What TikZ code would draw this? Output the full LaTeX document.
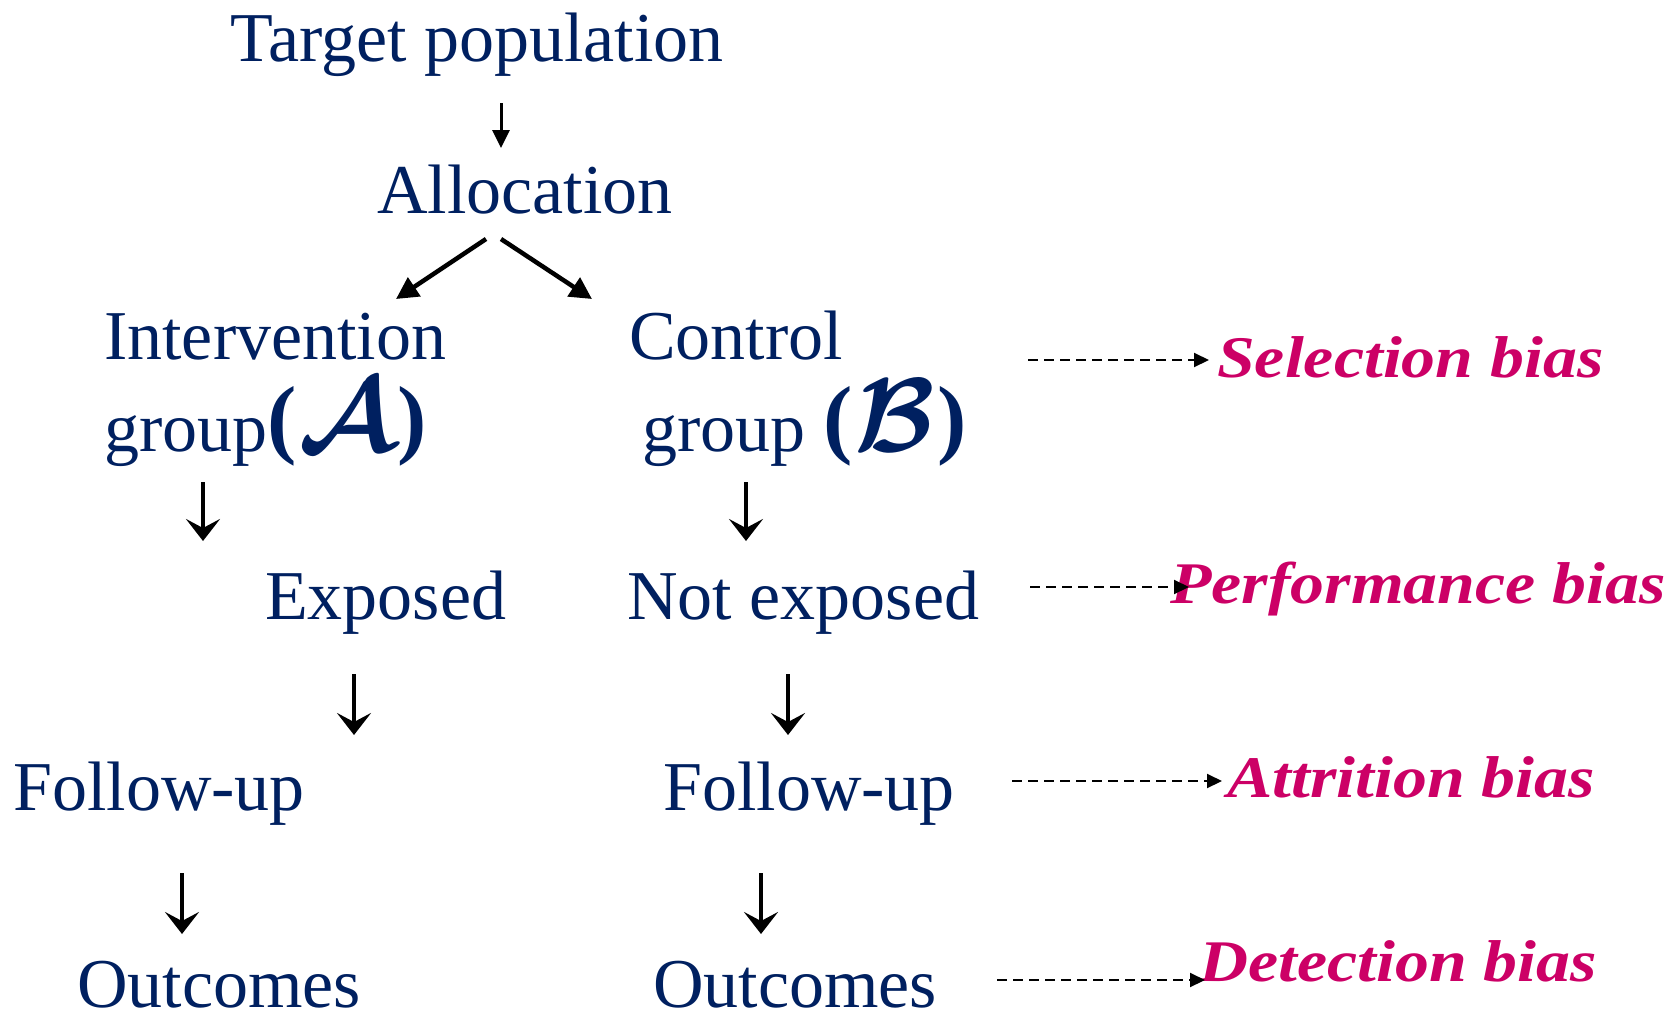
\documentclass[tikz,border=0pt]{standalone}
\usepackage{graphicx}
\usepackage{bm}
\usepackage{fontspec}
\setmainfont{Liberation Serif}
\newfontfamily\biasfont[FakeStretch=1.15]{Liberation Serif}
\usetikzlibrary{arrows.meta}
\definecolor{navy}{HTML}{002060}
\definecolor{biasred}{HTML}{CC0066}
\tikzset{
  stage/.style={anchor=base west, inner sep=0pt, text=navy,
    font=\fontsize{70}{80}\selectfont},
  biaslabel/.style={anchor=base west, inner sep=0pt, text=biasred,
    font=\biasfont\bfseries\itshape\fontsize{59}{66}\selectfont},
  toparrow/.style={line width=3pt, -{Triangle[length=18pt,width=17pt]}},
  splitarrow/.style={line width=4.5pt, -{Triangle[length=22pt,width=22pt]}},
  thinarrow/.style={line width=3.5pt, -{Stealth[length=22pt,width=34pt,inset=9pt]}},
  biasarrow/.style={line width=2pt, dash pattern=on 10pt off 6pt,
    -{Triangle[length=15pt,width=14pt]}},
}
% bold parenthesised calligraphic group letter
\newcommand{\bigparen}[1]{\raisebox{4pt}{\fontsize{88}{88}\selectfont\textbf{#1}}}
\newcommand{\grpsym}[1]{\bigparen{(}\kern2pt\scalebox{10.5}{\fontsize{10}{12}\selectfont$\bm{\mathcal{#1}}$}\kern2pt\bigparen{)}}
\begin{document}
\begin{tikzpicture}[x=1pt,y=-1pt]
\useasboundingbox (0,0) rectangle (1678,1012);

% stages of the trial
\node[stage] (target) at (230,61) {Target population};
\node[stage] (alloc)  at (377,213) {Allocation};
\node[stage] (interv) at (104,359) {Intervention};
\node[stage] (grpA)   at (104,451) {group\grpsym{A}};
\node[stage] (ctrl)   at (629,359) {Control};
\node[stage] (grpB)   at (642,451) {group \grpsym{B}};
\node[stage] (expo)   at (265,619) {Exposed};
\node[stage] (nexpo)  at (627,619) {Not exposed};
\node[stage] (fuA)    at (13,810)  {Follow-up};
\node[stage] (fuB)    at (663,810) {Follow-up};
\node[stage] (outA)   at (77,1007) {Outcomes};
\node[stage] (outB)   at (653,1007) {Outcomes};

% bias labels
\node[biaslabel] (selb)  at (1217,377) {Selection bias};
\node[biaslabel] (perfb) at (1170,603) {Performance bias};
\node[biaslabel] (attb)  at (1227,797) {Attrition bias};
\node[biaslabel] (detb)  at (1199,981) {Detection bias};

% arrow end points
\coordinate (t0) at (501,103);  \coordinate (t1) at (501,148);
\coordinate (l0) at (486,239);  \coordinate (l1) at (396,299);
\coordinate (r0) at (501,239);  \coordinate (r1) at (592,299);
\coordinate (ia0) at (203,482); \coordinate (ia1) at (203,541);
\coordinate (ca0) at (746,482); \coordinate (ca1) at (746,541);
\coordinate (ea0) at (354,674); \coordinate (ea1) at (354,735);
\coordinate (na0) at (788,674); \coordinate (na1) at (788,735);
\coordinate (fa0) at (182,873); \coordinate (fa1) at (182,934);
\coordinate (fb0) at (761,873); \coordinate (fb1) at (761,934);
\coordinate (s0) at (1028,360); \coordinate (s1) at (1209,360);
\coordinate (p0) at (1030,587); \coordinate (p1) at (1189,587);
\coordinate (a0) at (1012,781); \coordinate (a1) at (1222,781);
\coordinate (d0) at (997,980);  \coordinate (d1) at (1205,980);

% flow arrows
\draw[toparrow] (t0) -- (t1);
\draw[splitarrow] (l0) -- (l1);
\draw[splitarrow] (r0) -- (r1);
\draw[thinarrow] (ia0) -- (ia1);
\draw[thinarrow] (ca0) -- (ca1);
\draw[thinarrow] (ea0) -- (ea1);
\draw[thinarrow] (na0) -- (na1);
\draw[thinarrow] (fa0) -- (fa1);
\draw[thinarrow] (fb0) -- (fb1);

% dashed pointers to the biases
\draw[biasarrow] (s0) -- (s1);
\draw[biasarrow] (p0) -- (p1);
\draw[biasarrow] (a0) -- (a1);
\draw[biasarrow] (d0) -- (d1);
\end{tikzpicture}
\end{document}
